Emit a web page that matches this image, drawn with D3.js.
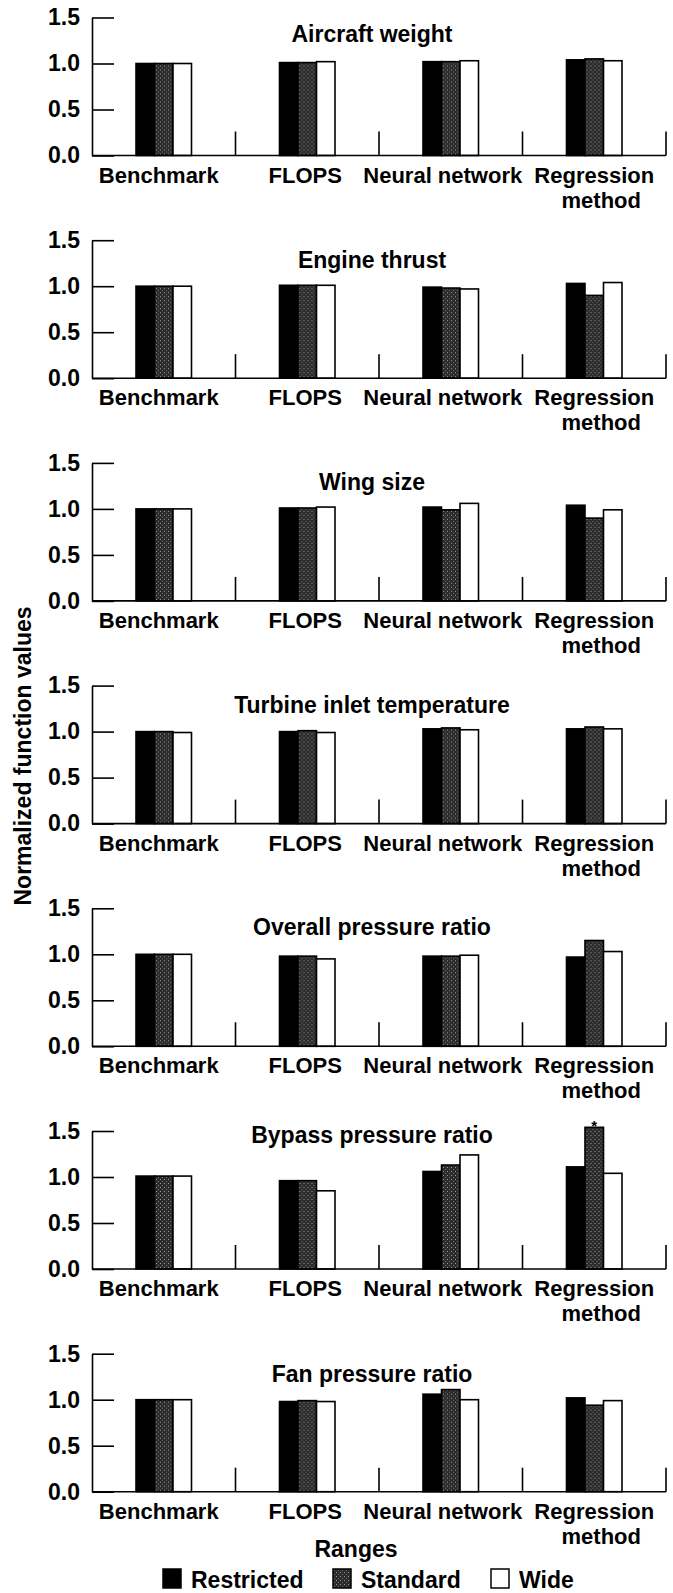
<!DOCTYPE html>
<html>
<head>
<meta charset="utf-8">
<script src="https://cdn.jsdelivr.net/npm/d3@7"></script>
<style>
    body { margin: 0; background: #fff; }
    svg text { font-family: "Liberation Sans", Arial, Helvetica, sans-serif; font-weight: bold; fill: #000; }
</style>
</head>
<body>
<svg id="chart" width="673" height="1593"></svg>
<script>
// Kategorien, Reihen, Achsen
const categories = ['Benchmark', 'FLOPS', 'Neural network', 'Regression method'];
const categoryLines = [['Benchmark'], ['FLOPS'], ['Neural network'], ['Regression', 'method']];
const seriesNames = ['Restricted', 'Standard', 'Wide'];
const yTicks = [0, 0.5, 1.0, 1.5];

const panelTitles = [
    'Aircraft weight',
    'Engine thrust',
    'Wing size',
    'Turbine inlet temperature',
    'Overall pressure ratio',
    'Bypass pressure ratio',
    'Fan pressure ratio'
];

// Werte je Panel: [Kategorie][Restricted, Standard, Wide]
const aircraftWeight   = [[1.00, 1.00, 1.00], [1.01, 1.01, 1.02], [1.02, 1.02, 1.03], [1.04, 1.05, 1.03]];
const engineThrust     = [[1.00, 1.00, 1.00], [1.01, 1.01, 1.01], [0.99, 0.98, 0.97], [1.03, 0.90, 1.04]];
const wingSize         = [[1.00, 1.00, 1.00], [1.01, 1.01, 1.02], [1.02, 0.99, 1.06], [1.04, 0.90, 0.99]];
const turbineInletTemp = [[1.00, 1.00, 0.99], [1.00, 1.01, 0.99], [1.03, 1.04, 1.02], [1.03, 1.05, 1.03]];
const overallPressure  = [[1.00, 1.00, 1.00], [0.98, 0.98, 0.95], [0.98, 0.98, 0.99], [0.97, 1.15, 1.03]];
const bypassPressure   = [[1.01, 1.01, 1.01], [0.96, 0.96, 0.85], [1.06, 1.13, 1.24], [1.11, 1.54, 1.04]];
const fanPressure      = [[1.00, 1.00, 1.00], [0.98, 0.99, 0.98], [1.06, 1.11, 1.00], [1.02, 0.94, 0.99]];

const panelValues = [aircraftWeight, engineThrust, wingSize, turbineInletTemp,
                     overallPressure, bypassPressure, fanPressure];

// Sternchen ueber einzelnen Balken
const markers = [{ panel: 5, category: 'Regression method', series: 'Standard', text: '*' }];

// Layout
const panelTop = 17.5;
const panelStep = 222.7;
const plotHeight = 138;
const axisX = 92;
const plotRight = 666;
const groupWidth = 55.5;
const titleDrop = [24, 28, 27, 27, 27, 12, 28];
const labelShift = [[-5], [-2], [-8], [0, 7]];

const svg = d3.select('#chart');

// Punktraster fuer "Standard"
const defs = svg.append('defs');
const pattern = defs.append('pattern')
    .attr('id', 'stipple')
    .attr('width', 4)
    .attr('height', 4)
    .attr('patternUnits', 'userSpaceOnUse');
pattern.append('rect').attr('width', 4).attr('height', 4).attr('fill', '#2c2c2c');
pattern.append('rect').attr('x', 0).attr('y', 0).attr('width', 1).attr('height', 1).attr('fill', '#9a9a9a');
pattern.append('rect').attr('x', 2).attr('y', 2).attr('width', 1).attr('height', 1).attr('fill', '#6e6e6e');

const fills = { Restricted: '#000', Standard: 'url(#stipple)', Wide: '#fff' };

// Skalen
const xScale = d3.scaleBand()
    .domain(categories)
    .range([axisX, plotRight]);

const xInner = d3.scaleBand()
    .domain(seriesNames)
    .range([0, groupWidth]);

const yScale = d3.scaleLinear()
    .domain([0, 1.5])
    .range([plotHeight, 0]);

/**
 * Ein Panel zeichnen
 */
function drawPanel(i) {
    const values = panelValues[i];
    const g = svg.append('g')
        .attr('transform', `translate(0,${panelTop + i * panelStep})`);

    // Balken
    categories.forEach((cat, ci) => {
        const cx = xScale(cat) + xScale.bandwidth() / 2;
        const group = g.append('g')
            .attr('transform', `translate(${cx - groupWidth / 2},0)`);

        group.selectAll('rect')
            .data(seriesNames.map((s, si) => ({ s, v: values[ci][si] })))
            .enter()
            .append('rect')
            .attr('x', d => xInner(d.s))
            .attr('y', d => yScale(d.v))
            .attr('width', xInner.bandwidth())
            .attr('height', d => yScale(0) - yScale(d.v))
            .attr('fill', d => fills[d.s])
            .attr('stroke', '#000')
            .attr('stroke-width', 1.6);
    });

    // Y-Achse
    const yAxis = d3.axisLeft(yScale)
        .tickValues(yTicks)
        .tickFormat(d3.format('.1f'))
        .tickSizeInner(-22)
        .tickSizeOuter(0)
        .tickPadding(12);

    const ya = g.append('g')
        .attr('transform', `translate(${axisX},0)`)
        .call(yAxis);
    ya.select('.domain').attr('stroke', '#000').attr('stroke-width', 1.6);
    ya.selectAll('.tick line').attr('stroke', '#000').attr('stroke-width', 1.6);
    ya.selectAll('.tick text')
        .attr('font-size', 23)
        .attr('font-family', null)
        .attr('fill', '#000');

    // X-Grundlinie und Trennstriche
    g.append('line')
        .attr('x1', axisX)
        .attr('x2', plotRight)
        .attr('y1', yScale(0))
        .attr('y2', yScale(0))
        .attr('stroke', '#000')
        .attr('stroke-width', 1.6);

    categories.forEach(cat => {
        const x = xScale(cat) + xScale.bandwidth();
        g.append('line')
            .attr('x1', x)
            .attr('x2', x)
            .attr('y1', yScale(0))
            .attr('y2', yScale(0) - 24)
            .attr('stroke', '#000')
            .attr('stroke-width', 1.6);
    });

    // Kategorie-Beschriftung
    categories.forEach((cat, ci) => {
        const t = g.append('text')
            .attr('text-anchor', 'middle')
            .attr('font-size', 22)
            .attr('y', yScale(0) + 27);
        categoryLines[ci].forEach((line, li) => {
            t.append('tspan')
                .attr('x', xScale(cat) + xScale.bandwidth() / 2 + labelShift[ci][li])
                .attr('dy', li === 0 ? 0 : 25)
                .text(line);
        });
    });

    // Titel
    g.append('text')
        .attr('x', 372)
        .attr('y', yScale(1.5) + titleDrop[i])
        .attr('text-anchor', 'middle')
        .attr('font-size', 23)
        .text(panelTitles[i]);

    // Marker
    markers.filter(m => m.panel === i).forEach(m => {
        const ci = categories.indexOf(m.category);
        const cx = xScale(m.category) + xScale.bandwidth() / 2 - groupWidth / 2
            + xInner(m.series) + xInner.bandwidth() / 2;
        g.append('text')
            .attr('x', cx)
            .attr('y', yScale(values[ci][seriesNames.indexOf(m.series)]) + 4)
            .attr('text-anchor', 'middle')
            .attr('font-size', 15)
            .text(m.text);
    });
}

panelTitles.forEach((t, i) => drawPanel(i));

// Y-Achsen-Titel
svg.append('text')
    .attr('transform', 'translate(31,756) rotate(-90)')
    .attr('text-anchor', 'middle')
    .attr('font-size', 23)
    .text('Normalized function values');

// X-Achsen-Titel
svg.append('text')
    .attr('x', 356)
    .attr('y', 1557)
    .attr('text-anchor', 'middle')
    .attr('font-size', 23)
    .text('Ranges');

// Legende
const legendX = [163, 333, 491];
const legend = svg.append('g');
seriesNames.forEach((s, i) => {
    legend.append('rect')
        .attr('x', legendX[i])
        .attr('y', 1569)
        .attr('width', 18)
        .attr('height', 19)
        .attr('fill', fills[s])
        .attr('stroke', '#000')
        .attr('stroke-width', 1.5);
    legend.append('text')
        .attr('x', legendX[i] + 28)
        .attr('y', 1588)
        .attr('font-size', 23)
        .text(s);
});
</script>
</body>
</html>
